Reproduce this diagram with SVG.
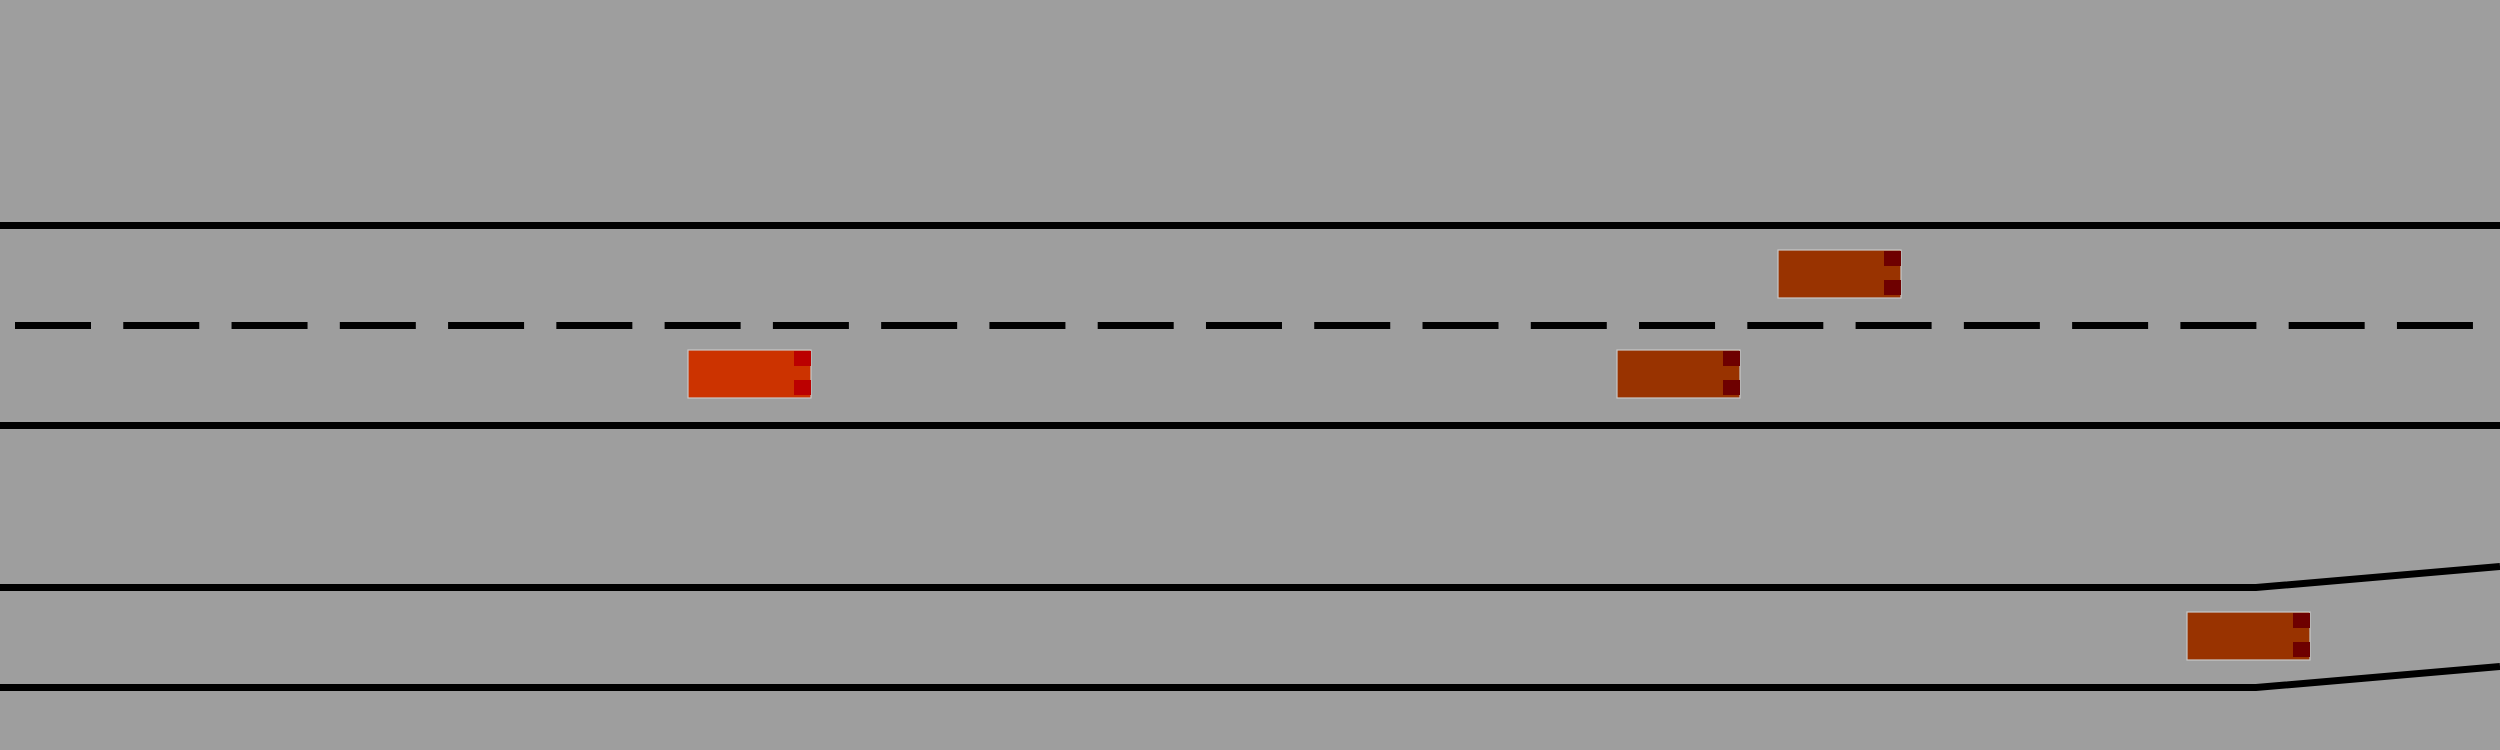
<svg xmlns="http://www.w3.org/2000/svg" width="2500" height="750" viewBox="0 0 2500 750">
<style>
.edge{stroke:#000;stroke-width:7;fill:none}
.dash{stroke:#000;stroke-width:7;fill:none;stroke-dasharray:76 32.27}
.body{stroke:#c8c8c8;stroke-width:1.2}
.ego{fill:#cc3300}
.other{fill:#993300}
.egolight{fill:#bb0000}
.otherlight{fill:#6e0000}
</style>
<rect x="0" y="0" width="2500" height="750" fill="#9e9e9e"/>
<g id="connectors">
<line class="edge" x1="0" y1="225.5" x2="2500" y2="225.5"/>
<line class="dash" x1="15" y1="325.5" x2="2500" y2="325.5"/>
<line class="edge" x1="0" y1="425.5" x2="2500" y2="425.5"/>
<polyline class="edge" points="0,587.5 2256,587.5 2500,566.5"/>
<polyline class="edge" points="0,687.5 2256,687.5 2500,666.5"/>
</g>
<g id="car-ego">
<rect class="body ego" x="688" y="350" width="123" height="48"/>
<rect class="egolight" x="794" y="351" width="17" height="15"/>
<rect class="egolight" x="794" y="380" width="17" height="15"/>
</g>
<g id="car-1">
<rect class="body other" x="1778" y="250" width="123" height="48"/>
<rect class="otherlight" x="1884" y="251" width="17" height="15"/>
<rect class="otherlight" x="1884" y="280" width="17" height="15"/>
</g>
<g id="car-2">
<rect class="body other" x="1617" y="350" width="123" height="48"/>
<rect class="otherlight" x="1723" y="351" width="17" height="15"/>
<rect class="otherlight" x="1723" y="380" width="17" height="15"/>
</g>
<g id="car-3">
<rect class="body other" x="2187" y="612" width="123" height="48"/>
<rect class="otherlight" x="2293" y="613" width="17" height="15"/>
<rect class="otherlight" x="2293" y="642" width="17" height="15"/>
</g>
</svg>
